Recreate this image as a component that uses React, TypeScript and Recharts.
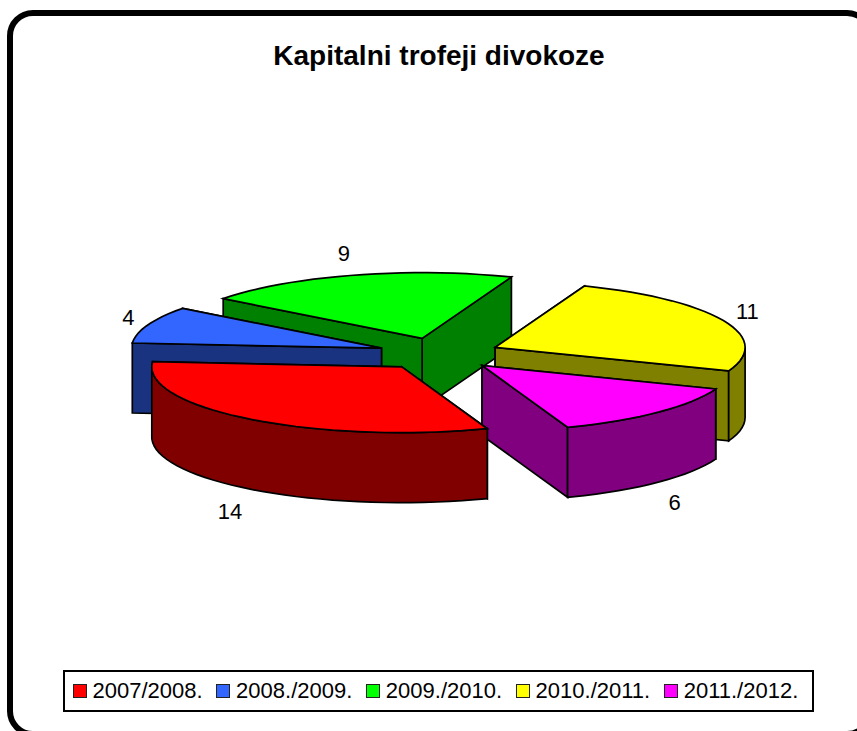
import { Legend, Pie, PieChart } from "recharts";

const seasons = ["2007/2008.", "2008./2009.", "2009./2010.", "2010./2011.", "2011./2012."];
const trophies = [14, 4, 9, 11, 6];
const topColors = ["#ff0000", "#3366ff", "#00ff00", "#ffff00", "#ff00ff"];
const sideColors = ["#800000", "#1a3380", "#008000", "#808000", "#800080"];
// back to front, so nearer slices cover the ones behind them
const paintOrder = [2, 1, 3, 4, 0];
// small hand adjustments of the value labels
const labelNudgeX = [-3, 7, -2, -2, -3];
const labelNudgeY = [3, 1, 1, 1, 3];

const data = seasons.map((name, i) => ({ name, value: trophies[i] }));

const RAD = Math.PI / 180;
const SQUASH = 0.263; // tilt of the pie plane
const DEPTH = 70;
const EXPLODE = 61.5;
const LABEL_R = 340;
const LABEL_RY = 106;

const sansFont = "'Liberation Sans', Arial, sans-serif";

function pointsToPath(points: number[][]) {
  return points.map((p, i) => `${i ? "L" : "M"}${p[0].toFixed(1)} ${p[1].toFixed(1)}`).join(" ") + " Z";
}

function Slice3D(props: any) {
  const { cx, cy, outerRadius, startAngle, endAngle, midAngle } = props;
  const colorIndex = seasons.indexOf(props.name);
  const ox = cx + EXPLODE * Math.cos(midAngle * RAD);
  const oy = cy - EXPLODE * SQUASH * Math.sin(midAngle * RAD);
  const project = (a: number, drop = 0) => [
    ox + outerRadius * Math.cos(a * RAD),
    oy - outerRadius * SQUASH * Math.sin(a * RAD) + drop,
  ];

  // angles run clockwise, so endAngle is the smaller one
  const angles: number[] = [];
  for (let a = startAngle; a > endAngle; a -= 3) angles.push(a);
  angles.push(endAngle);
  const rim = angles.map((a) => project(a));

  // wall is only seen on the front half of the rim
  const front = [...angles];
  const k0 = Math.ceil(endAngle / 180);
  for (let k = k0; k * 180 < startAngle; k++) front.push(k * 180);
  front.sort((a, b) => b - a);
  const frontAngles = front.filter((a) => Math.sin(a * RAD) <= 1e-6);

  const apex = [ox, oy];
  const apexLow = [ox, oy + DEPTH];
  const cut = (a: number) => pointsToPath([apex, project(a), project(a, DEPTH), apexLow]);
  // the cut whose rim end sits further back is painted first
  const cuts = [startAngle, endAngle].sort((a, b) => project(a)[1] - project(b)[1]);
  const stroke = { stroke: "#000", strokeWidth: 1.7 };

  return (
    <g>
      <path d={cut(cuts[0])} fill={sideColors[colorIndex]} {...stroke} />
      <path d={cut(cuts[1])} fill={sideColors[colorIndex]} {...stroke} />
      {frontAngles.length > 1 && (
        <path
          d={pointsToPath([
            ...frontAngles.map((a) => project(a)),
            ...[...frontAngles].reverse().map((a) => project(a, DEPTH)),
          ])}
          fill={sideColors[colorIndex]}
          {...stroke}
        />
      )}
      <path d={pointsToPath([apex, ...rim])} fill={topColors[colorIndex]} {...stroke} />
    </g>
  );
}

function sliceLabel(props: any, i: number) {
  if (props.name !== seasons[i]) return <g />;
  const sin = Math.sin(props.midAngle * RAD);
  const x = props.cx + LABEL_R * Math.cos(props.midAngle * RAD) + labelNudgeX[i];
  const y = props.cy - LABEL_RY * sin + (sin < 0 ? DEPTH : 0) + labelNudgeY[i];
  return (
    <text x={x} y={y} textAnchor="middle" dominantBaseline="central" fontFamily={sansFont} fontSize={22} fill="#000">
      {props.value}
    </text>
  );
}

function LegendBox() {
  return (
    <div
      style={{
        boxSizing: "border-box",
        width: 751,
        height: 42,
        border: "2px solid #000",
        display: "flex",
        alignItems: "center",
        paddingLeft: 7.5,
        background: "#fff",
        fontFamily: sansFont,
        fontSize: 22,
        lineHeight: "22px",
        color: "#000",
      }}
    >
      {seasons.map((s, i) => (
        <span key={s} style={{ display: "flex", alignItems: "center", marginRight: 13.5 }}>
          <span
            style={{
              boxSizing: "border-box",
              width: 14,
              height: 14,
              border: "1.5px solid #222",
              background: topColors[i],
              marginRight: 6,
            }}
          />
          {s}
        </span>
      ))}
    </div>
  );
}

export default function App() {
  return (
    <div style={{ position: "absolute", left: 0, top: 0, width: 857, height: 731, overflow: "hidden", background: "#fff" }}>
      <div
        style={{
          position: "absolute",
          boxSizing: "border-box",
          left: 7,
          top: 10,
          width: 866,
          height: 727,
          border: "6px solid #000",
          borderRadius: 26,
        }}
      />
      <div style={{ position: "absolute", left: 0, top: 0 }}>
        <PieChart width={857} height={731} margin={{ top: 0, right: 0, bottom: 0, left: 0 }}>
          <text x={439} y={55} textAnchor="middle" dominantBaseline="central" fontFamily={sansFont} fontSize={28} fontWeight="bold" fill="#000">
            Kapitalni trofeji divokoze
          </text>
          {paintOrder.map((i) => (
            <Pie
              key={seasons[i]}
              data={data}
              dataKey="value"
              nameKey="name"
              cx={439}
              cy={354}
              innerRadius={0}
              outerRadius={250}
              startAngle={-70}
              endAngle={-430}
              isAnimationActive={false}
              labelLine={false}
              label={(p: any) => sliceLabel(p, i)}
              shape={(p: any) => (p.name === seasons[i] ? <Slice3D {...p} /> : <g />)}
            />
          ))}
          <Legend
            content={() => <LegendBox />}
            layout="horizontal"
            wrapperStyle={{ position: "absolute", left: 63, top: 670, width: 751, bottom: "auto" }}
          />
        </PieChart>
      </div>
    </div>
  );
}
